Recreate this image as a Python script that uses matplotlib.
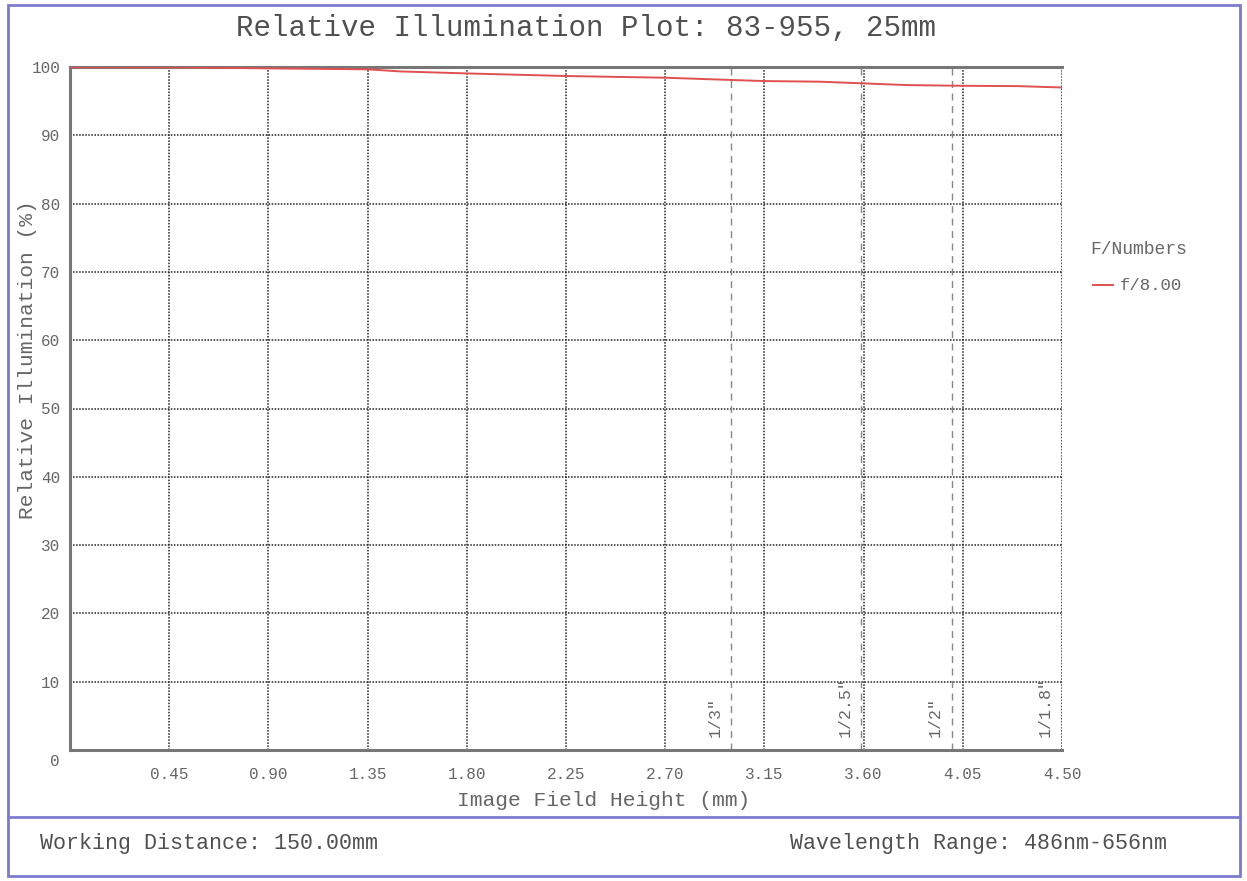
import numpy as np
import matplotlib
matplotlib.use('Agg')
import matplotlib.pyplot as plt
from matplotlib.patches import Rectangle
from matplotlib.lines import Line2D

# 数据
field_height = [0.0, 0.45, 0.90, 1.35, 1.50, 1.80, 2.25, 2.70, 3.00, 3.15, 3.40, 3.60, 3.80, 4.05, 4.30, 4.50]
rel_illum = [99.96, 99.95, 99.80, 99.66, 99.35, 99.06, 98.68, 98.43, 98.10, 97.94, 97.85, 97.60, 97.35, 97.25, 97.20, 97.00]
x_ticks = [0.45, 0.90, 1.35, 1.80, 2.25, 2.70, 3.15, 3.60, 4.05, 4.50]
y_ticks = [10, 20, 30, 40, 50, 60, 70, 80, 90, 100]
sensor_labels = ['1/3"', '1/2.5"', '1/2"', '1/1.8"']
sensor_pos = [3.00, 3.59, 4.00, 4.50]

W, H = 1247, 881
plt.rcParams['font.family'] = ['Liberation Mono', 'DejaVu Sans Mono']
text_col = '#666666'
border_col = '#7b7bcf'

fig = plt.figure(figsize=(W / 100, H / 100), dpi=100)

def fx(px):
    return px / W

def fy(py):
    return 1 - py / H

# 外框和分隔线
fig.patches.append(Rectangle((fx(8), fy(876)), fx(1240) - fx(8), fy(5) - fy(876),
                             transform=fig.transFigure, fill=False,
                             edgecolor=border_col, linewidth=2))
fig.lines.append(Line2D([fx(8), fx(1240)], [fy(817), fy(817)],
                        transform=fig.transFigure, color=border_col, linewidth=2))

ax = fig.add_axes([fx(70), fy(750), fx(1062) - fx(70), fy(67) - fy(750)])
ax.set_xlim(0, 4.5)
ax.set_ylim(0, 100)

# 网格
for xv in x_ticks:
    ax.axvline(xv, color='#222222', linestyle=(0, (1, 1)), linewidth=1.1, zorder=1)
for yv in y_ticks[:-1]:
    ax.axhline(yv, color='#222222', linestyle=(0, (1, 1)), linewidth=1.1, zorder=1)

# 传感器尺寸线
for lab, xv in zip(sensor_labels, sensor_pos):
    ax.axvline(xv, color='#888888', linestyle=(0, (5, 4)), linewidth=1.0, zorder=1)
    ax.text(xv - 0.04, 1.9, lab, rotation=90, ha='right', va='bottom',
            fontsize=12, color=text_col)

ax.plot(field_height, rel_illum, color='#e05050', linewidth=1.4, zorder=3)

ax.spines['right'].set_visible(False)
for side in ['left', 'bottom', 'top']:
    ax.spines[side].set_color('#777777')
    ax.spines[side].set_linewidth(2.2)

ax.set_xticks(x_ticks)
ax.set_xticklabels([f'{v:.2f}' for v in x_ticks])
ax.set_yticks(y_ticks)
ax.set_yticklabels([str(v) for v in y_ticks])
ax.tick_params(axis='both', length=0, labelsize=11.5, labelcolor=text_col)
ax.tick_params(axis='x', pad=12)
ax.tick_params(axis='y', pad=7)
fig.text(fx(55), fy(762), '0', ha='center', va='center', fontsize=11.5, color=text_col)

# 标题和坐标轴标签
fig.text(fx(586), fy(28), 'Relative Illumination Plot: 83-955, 25mm',
         ha='center', va='center', fontsize=21, color='#505050')
fig.text(fx(604), fy(800), 'Image Field Height (mm)', ha='center', va='center',
         fontsize=15.3, color=text_col)
fig.text(fx(28), fy(360), 'Relative Illumination (%)', ha='center', va='center',
         rotation=90, fontsize=15.3, color=text_col)

# 图例
fig.text(fx(1090), fy(249), 'F/Numbers', ha='left', va='center', fontsize=13, color=text_col)
fig.lines.append(Line2D([fx(1093), fx(1113)], [fy(285), fy(285)],
                        transform=fig.transFigure, color='#e05050', linewidth=1.4))
fig.text(fx(1120), fy(285), 'f/8.00', ha='left', va='center', fontsize=12.5, color=text_col)

# 底部信息
fig.text(fx(40), fy(844), 'Working Distance: 150.00mm', ha='left', va='center',
         fontsize=15.6, color='#505050')
fig.text(fx(1167), fy(844), 'Wavelength Range: 486nm-656nm', ha='right', va='center',
         fontsize=15.6, color='#505050')

fig.savefig('out.png', dpi=100)
